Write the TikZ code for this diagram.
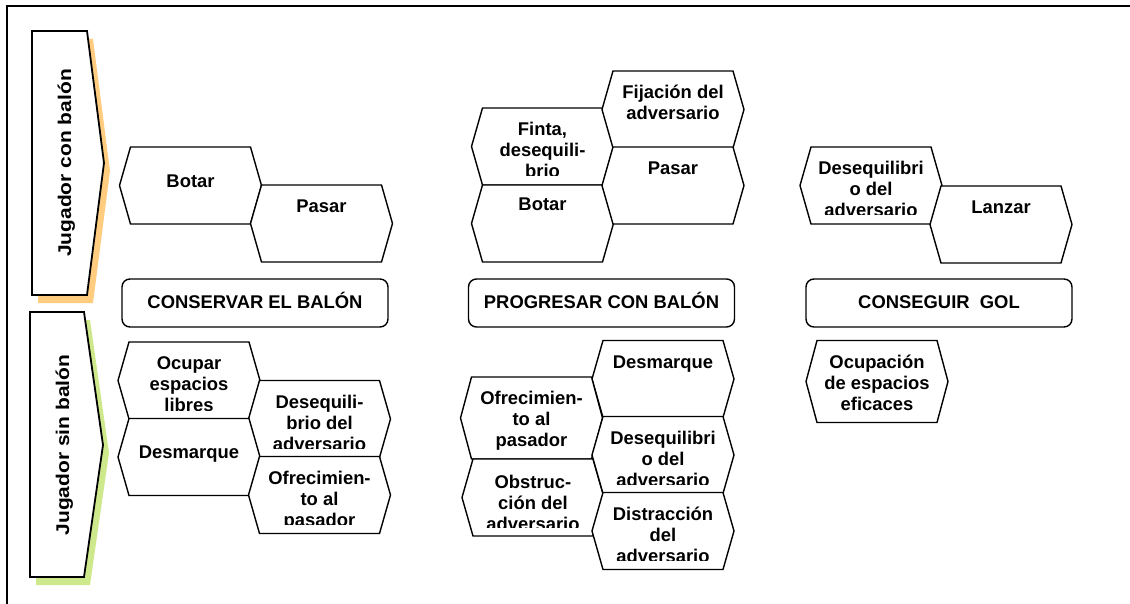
\documentclass[tikz,border=0pt]{standalone}
\usepackage{fontspec}
\setmainfont{Liberation Sans}
\newfontfamily\widefont[FakeStretch=1.14]{Liberation Sans}
\definecolor{shadeorange}{RGB}{255,204,128}
\definecolor{shadegreen}{RGB}{206,232,140}
\tikzset{
  hexline/.style={draw=black,line width=1.4pt,fill=white},
  hextext/.style={font=\fontsize{18.4}{21}\selectfont\bfseries,align=center,anchor=north,inner sep=0pt},
  goalbox/.style={draw,line width=1.4pt,rounded corners=8pt,minimum width=266pt,minimum height=48pt,
    font=\fontsize{18.4}{21}\selectfont\bfseries,text height=13.2pt,text depth=2pt},
  sidetext/.style={font=\widefont\fontsize{18.4}{21}\selectfont\bfseries,rotate=90,anchor=base,inner sep=0pt},
  sidebox/.style={draw=black,line width=1.8pt,fill=white}
}
\def\hexhalf{38.5}
% hexcell[baseline offset]{name}{cx}{cy}{text}
\newcommand{\hexcell}[5][27.6]{%
  \draw[hexline] (#3-71,#4) -- (#3-60,#4-\hexhalf) -- (#3+60,#4-\hexhalf) -- (#3+71,#4)
    -- (#3+60,#4+\hexhalf) -- (#3-60,#4+\hexhalf) -- cycle;
  \begin{scope}
    \clip (#3-71,#4-\hexhalf) rectangle (#3+71,#4+\hexhalf-9);
    \node[hextext] (#2) at (#3,#4-\hexhalf+#1-18) {\rule{0pt}{18pt}#5};
  \end{scope}}
\begin{document}
\begin{tikzpicture}[x=1pt,y=-1pt]
\useasboundingbox[fill=white] (0,0) rectangle (1130,604);
\draw[line width=1.8pt] (7,612) -- (7,6) -- (1138,6);

\fill[shadeorange] (38,39) -- (93,39) -- (110,171) -- (93,303) -- (38,303) -- cycle;
\draw[sidebox] (32,31) -- (87,31) -- (104,163) -- (87,295) -- (32,295) -- cycle;
\node[sidetext] (conBalon) at (71,163) {Jugador con balón};
\fill[shadegreen] (36,320) -- (90,320) -- (109,453) -- (90,585) -- (36,585) -- cycle;
\draw[sidebox] (30,312) -- (84,312) -- (103,445) -- (84,577) -- (30,577) -- cycle;
\node[sidetext] (sinBalon) at (69,445) {Jugador sin balón};

\hexcell[40]{conBotar}{190.5}{185.5}{Botar}
\hexcell{conPasar}{321.5}{223.5}{Pasar}
\node[goalbox] (conservar) at (255,303) {CONSERVAR EL BALÓN};
\hexcell{sinOcupar}{189}{380.5}{Ocupar\\espacios\\libres}
\hexcell{sinDeseq}{319.5}{419}{Desequili-\\brio del\\adversario}
\hexcell[39.6]{sinDesmarque}{189}{457}{Desmarque}
\hexcell{sinOfrec}{319.5}{495}{Ofrecimien-\\to al\\pasador}

\hexcell{proFinta}{542.5}{146.5}{Finta,\\desequili-\\brio}
\hexcell[25.6]{proBotar}{542.5}{223.5}{Botar}
\hexcell{proFijacion}{673}{109.5}{Fijación del\\adversario}
\hexcell{proPasar}{673}{185.5}{Pasar}
\node[goalbox] (progresar) at (601.5,303) {PROGRESAR CON BALÓN};
\hexcell{proDesmarque}{663}{379}{Desmarque}
{\def\hexhalf{41}\hexcell{proOfrec}{531.5}{418}{Ofrecimien-\\to al\\pasador}}
\hexcell[29.6]{proObstr}{533}{497.5}{Obstruc-\\ción del\\adversario}
\hexcell{proDeseq}{663}{455}{Desequilibri\\o del\\adversario}
\hexcell{proDistr}{663}{531}{Distracción\\del\\adversario}

\hexcell{golDeseq}{871}{185.5}{Desequilibri\\o del\\adversario}
\hexcell{golLanzar}{1001}{224.5}{Lanzar}
\node[goalbox] (conseguir) at (939,303) {CONSEGUIR\ \ GOL};
{\def\hexhalf{41}\hexcell{golOcupacion}{877}{381.5}{Ocupación\\de espacios\\eficaces}}
\end{tikzpicture}
\end{document}
